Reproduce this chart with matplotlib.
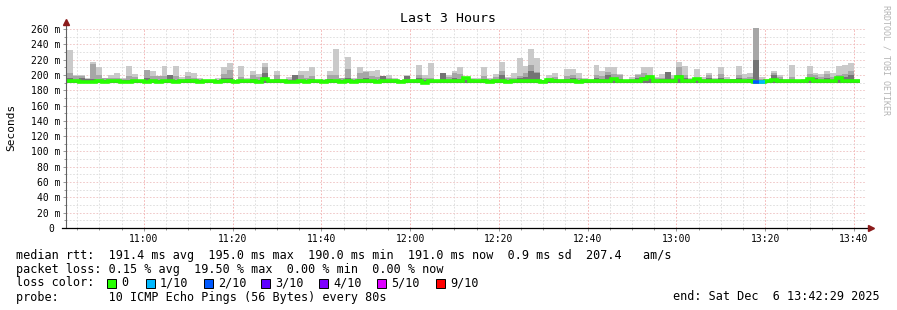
import matplotlib
matplotlib.use("Agg")
import matplotlib.pyplot as plt
import numpy as np
from matplotlib.patches import Rectangle

W, H = 897, 310
MONO = "DejaVu Sans Mono"

# 每步 80 s, 时间用当天的分钟数
T_START = 10 * 60 + 42 + 40 / 60
STEP = 80 / 60
T_LEFT = 10 * 60 + 42 + 29 / 60   # 图的起点 (end - 3h)

# smoke: 各灰度带的上沿 (ms)
smoke_max = [232, 200, 200, 196, 217, 210, 196, 200, 202, 196,
             212, 201, 194, 206, 205, 198, 211, 200, 211, 197,
             204, 202, 196, 193, 193, 196, 210, 216, 194, 212,
             196, 205, 201, 216, 195, 205, 195, 197, 200, 205,
             205, 210, 193, 195, 205, 234, 196, 224, 196, 210,
             205, 205, 207, 198, 200, 196, 193, 200, 195, 213,
             200, 216, 193, 202, 200, 205, 210, 196, 196, 196,
             210, 196, 201, 217, 197, 202, 222, 211, 234, 222,
             193, 200, 203, 195, 208, 208, 203, 196, 195, 213,
             205, 210, 210, 201, 193, 197, 201, 210, 210, 197,
             201, 204, 200, 217, 211, 196, 208, 197, 202, 196,
             210, 197, 195, 211, 201, 202, 300, 197, 195, 205,
             200, 195, 213, 193, 195, 211, 203, 201, 205, 202,
             211, 213, 216, 195]
smoke_mid = [203, 198, 199, 195, 214, 200, 196, 196, 196, 195,
             198, 197, 193, 206, 198, 198, 198, 200, 198, 195,
             199, 196, 195, 193, 193, 194, 201, 206, 193, 197,
             194, 200, 197, 210, 194, 200, 194, 195, 200, 200,
             196, 198, 193, 194, 200, 200, 196, 208, 195, 203,
             204, 198, 197, 198, 196, 195, 193, 199, 194, 200,
             196, 196, 193, 202, 197, 202, 201, 196, 195, 194,
             198, 195, 197, 205, 196, 196, 199, 202, 213, 204,
             193, 196, 197, 194, 199, 200, 196, 195, 194, 200,
             198, 204, 201, 200, 193, 195, 200, 202, 200, 196,
             196, 204, 196, 210, 200, 195, 196, 195, 200, 195,
             201, 195, 195, 200, 196, 197, 300, 195, 194, 202,
             197, 194, 197, 193, 194, 201, 200, 197, 201, 197,
             200, 201, 205, 194]
smoke_dark = [196, 193, 196, 195, 195, 193, 193, 193, 193, 193,
              194, 193, 193, 196, 194, 193, 193, 200, 194, 193,
              195, 193, 193, 193, 193, 193, 196, 196, 193, 194,
              193, 195, 193, 202, 193, 195, 193, 193, 200, 194,
              194, 195, 193, 193, 195, 194, 193, 196, 193, 195,
              196, 194, 193, 198, 193, 193, 193, 199, 193, 196,
              193, 194, 193, 202, 193, 196, 195, 194, 193, 193,
              195, 193, 194, 200, 193, 194, 196, 197, 205, 203,
              193, 195, 195, 193, 195, 196, 194, 193, 193, 196,
              195, 200, 196, 195, 193, 193, 196, 197, 196, 193,
              195, 204, 195, 200, 196, 193, 195, 193, 196, 193,
              196, 193, 195, 196, 194, 195, 219, 193, 193, 200,
              195, 193, 194, 193, 193, 196, 196, 194, 196, 194,
              196, 197, 200, 193]
smoke_floor = [189.5] * len(smoke_max)

median_rtt = [192.0, 191.5, 191.0, 191.0, 191.0, 191.5, 191.0, 191.5, 191.5, 191.0,
              191.0, 191.5, 191.5, 191.0, 191.5, 191.0, 191.5, 191.5, 191.0, 191.5,
              191.5, 191.5, 191.0, 191.5, 191.5, 191.0, 191.5, 191.5, 191.0, 191.5,
              191.5, 191.5, 191.0, 195.0, 192.5, 191.5, 191.5, 191.0, 191.0, 191.5,
              190.5, 191.5, 191.5, 191.0, 191.5, 191.5, 191.0, 191.5, 191.0, 191.5,
              191.5, 191.5, 191.0, 191.5, 191.5, 191.5, 191.0, 191.5, 191.5, 191.5,
              189.0, 191.5, 191.5, 191.5, 191.5, 191.5, 191.5, 196.0, 191.5, 191.5,
              191.5, 191.0, 191.5, 191.5, 191.0, 191.5, 191.5, 191.5, 191.5, 191.5,
              191.0, 194.0, 191.5, 191.5, 191.5, 191.5, 191.0, 191.5, 191.5, 191.5,
              191.5, 192.5, 195.0, 191.5, 191.5, 191.5, 191.5, 195.0, 197.0, 191.5,
              191.5, 191.5, 191.5, 197.0, 191.5, 191.5, 195.0, 191.5, 191.5, 191.5,
              191.5, 191.5, 191.5, 191.5, 191.5, 191.5, 191.0, 191.0, 191.5, 193.0,
              191.5, 191.5, 191.5, 191.5, 191.5, 195.0, 191.5, 191.5, 191.5, 191.5,
              196.0, 191.5, 192.0, 191.5]
# 丢包的步 -> 丢包数 (共 10 个包)
loss_events = {116: 2, 117: 1}

loss_levels = [0, 1, 2, 3, 4, 5, 9]
loss_labels = ["0", "1/10", "2/10", "3/10", "4/10", "5/10", "9/10"]
loss_colors = ["#26ff00", "#00b8ff", "#0059ff", "#5e00ff", "#7e00ff", "#dd00ff", "#ff0000"]

legend_lines = [
    "median rtt:  191.4 ms avg  195.0 ms max  190.0 ms min  191.0 ms now  0.9 ms sd  207.4   am/s",
    "packet loss: 0.15 % avg  19.50 % max  0.00 % min  0.00 % now",
    "loss color:",
    "probe:       10 ICMP Echo Pings (56 Bytes) every 80s",
]
end_text = "end: Sat Dec  6 13:42:29 2025"


def hhmm(m):
    return "%02d:%02d" % (int(m) // 60, int(m) % 60)


n = len(median_rtt)
edges = T_START + STEP * np.arange(n + 1)

fig = plt.figure(figsize=(W / 100, H / 100), dpi=100)
ax = fig.add_axes([66 / W, 1 - 228 / H, 799 / W, 200 / H])

ax.stairs(smoke_max, edges, baseline=smoke_floor, fill=True, color="#cacaca", lw=0)
ax.stairs(smoke_mid, edges, baseline=smoke_floor, fill=True, color="#a6a6a6", lw=0)
ax.stairs(smoke_dark, edges, baseline=smoke_floor, fill=True, color="#747474", lw=0)

ax.stairs(median_rtt, edges, baseline=None, color=loss_colors[0], lw=2.6)
for i, c in loss_events.items():
    col = loss_colors[loss_levels.index(c)]
    ax.hlines(median_rtt[i], edges[i], edges[i + 1], color=col, lw=2.6)

ax.set_xlim(T_LEFT, T_LEFT + 180)
ax.set_ylim(0, 261.3)

xmaj = np.arange(660, 821, 20)
ax.set_xticks(xmaj)
ax.set_xticklabels([hhmm(m) for m in xmaj])
ax.set_xticks(np.arange(645, 825, 5), minor=True)
ymaj = np.arange(0, 261, 20)
ax.set_yticks(ymaj)
ax.set_yticklabels(["0 " if v == 0 else "%d m" % v for v in ymaj])
ax.set_yticks(np.arange(10, 260, 20), minor=True)

ax.set_axisbelow(True)
ax.grid(which="major", axis="x", color="#f2aaaa", ls=(0, (2, 2)), lw=0.6)
ax.grid(which="major", axis="y", color="#eec0c0", ls=(0, (2, 2)), lw=0.6)
ax.grid(which="minor", color="#dadada", ls=(0, (2, 2)), lw=0.6)
for s in ax.spines.values():
    s.set_visible(False)
ax.tick_params(which="both", length=2, width=0.6, color="#888888",
               labelsize=7, pad=2)
ax.tick_params(which="minor", length=1.5)
for lab in ax.get_xticklabels() + ax.get_yticklabels():
    lab.set_family(MONO)

# 坐标轴和箭头
ax.plot([0, 0], [0, 1.03], transform=ax.transAxes, color="#606060", lw=0.8, clip_on=False)
ax.plot([0], [1.03], marker="^", ms=4, color="#8b1a1a", transform=ax.transAxes, clip_on=False)
ax.plot([-0.005, 1.006], [0, 0], transform=ax.transAxes, color="black", lw=0.9, clip_on=False)
ax.plot([1.008], [0], marker=">", ms=4, color="#8b1a1a", transform=ax.transAxes, clip_on=False)

fig.text(448 / W, 1 - 19 / H, "Last 3 Hours", ha="center", va="center",
         family=MONO, fontsize=9.5)
fig.text(11 / W, 1 - 127 / H, "Seconds", rotation=90, ha="center", va="center",
         family=MONO, fontsize=8)
fig.text(886 / W, 1 - 60 / H, "RRDTOOL / TOBI OETIKER", rotation=270, ha="center",
         va="center", family=MONO, fontsize=6, color="#b4b4b4")

rows_y = [255, 269, 283, 297]
for txt, y in zip(legend_lines, rows_y):
    fig.text(16 / W, 1 - y / H, txt, ha="left", va="center", family=MONO, fontsize=8.5)
fig.text(880 / W, 1 - 297 / H, end_text, ha="right", va="center", family=MONO, fontsize=8.5)

label_x = [121, 160, 218, 275, 333, 391, 450]
for lx, lab, col in zip(label_x, loss_labels, loss_colors):
    sq = 9
    fig.add_artist(Rectangle(((lx - 10 - sq / 2) / W, 1 - (283 + sq / 2) / H), sq / W, sq / H,
                             transform=fig.transFigure, facecolor=col, edgecolor="black", lw=0.7))
    fig.text(lx / W, 1 - 283 / H, lab, ha="left", va="center", family=MONO, fontsize=8.5)

fig.savefig("out.png", dpi=100)
